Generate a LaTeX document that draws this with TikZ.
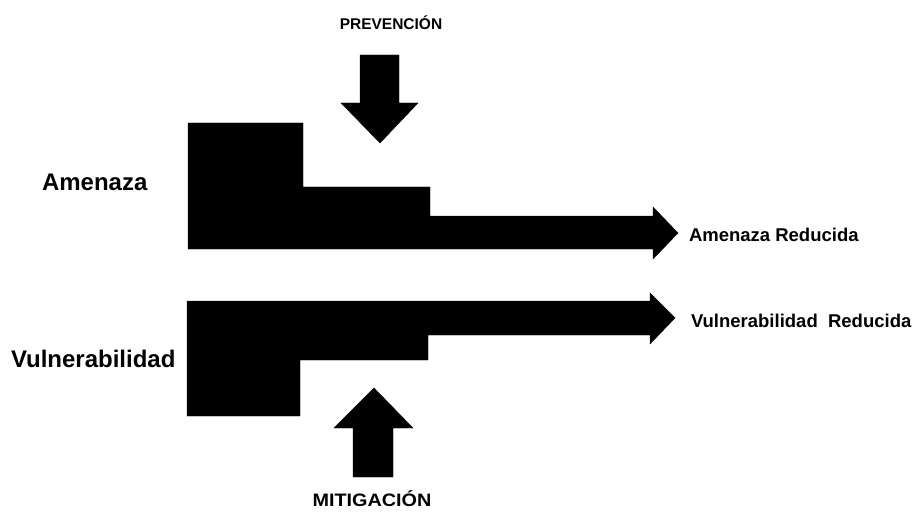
\documentclass[tikz,border=0pt]{standalone}
\usepackage{fontspec}
\usepackage{graphicx}
\setmainfont{Liberation Sans}
\tikzset{
  blk/.style={fill=black, draw=black, line width=0.4pt, line join=miter},
  lbl/.style={inner sep=0pt, outer sep=0pt, font=\bfseries},
}
\begin{document}
\begin{tikzpicture}[x=1pt, y=-1pt]
\useasboundingbox[fill=white] (0,0) rectangle (915,513);
% top shape (Amenaza)
\fill[blk] (188,123) -- (303,123) -- (303,187) -- (430,187) -- (430,216)
  -- (653,216) -- (653,207) -- (678,233) -- (653,259) -- (653,249) -- (188,249) -- cycle;
% bottom shape (Vulnerabilidad)
\fill[blk] (187,301) -- (650,301) -- (650,293) -- (675,318) -- (650,344) -- (650,335)
  -- (428,335) -- (428,360) -- (300,360) -- (300,416) -- (187,416) -- cycle;
% prevention arrow
\fill[blk] (360,55) -- (399,55) -- (399,103) -- (418,103) -- (380,143) -- (341,103) -- (360,103) -- cycle;
% mitigation arrow
\fill[blk] (353,477) -- (393,477) -- (393,428) -- (413,428) -- (374,388) -- (334,428) -- (353,428) -- cycle;
% labels
\node[lbl, anchor=base, font=\bfseries\fontsize{15.5}{18}\selectfont] (prev) at (391,30) {PREVENCIÓN};
\node[lbl, anchor=base, font=\bfseries\fontsize{18}{21}\selectfont] (miti) at (372,506) {\scalebox{1.1}[1]{MITIGACIÓN}};
\node[lbl, anchor=base west, font=\bfseries\fontsize{24}{28}\selectfont] (amen) at (42,190) {Amenaza};
\node[lbl, anchor=base west, font=\bfseries\fontsize{24}{28}\selectfont] (vuln) at (11,367) {Vulnerabilidad};
\node[lbl, anchor=base west, font=\bfseries\fontsize{18.5}{22}\selectfont] (amred) at (689,241) {Amenaza Reducida};
\node[lbl, anchor=base west, font=\bfseries\fontsize{18.5}{22}\selectfont] (vured) at (691,327) {Vulnerabilidad\ \ Reducida};
\end{tikzpicture}
\end{document}
